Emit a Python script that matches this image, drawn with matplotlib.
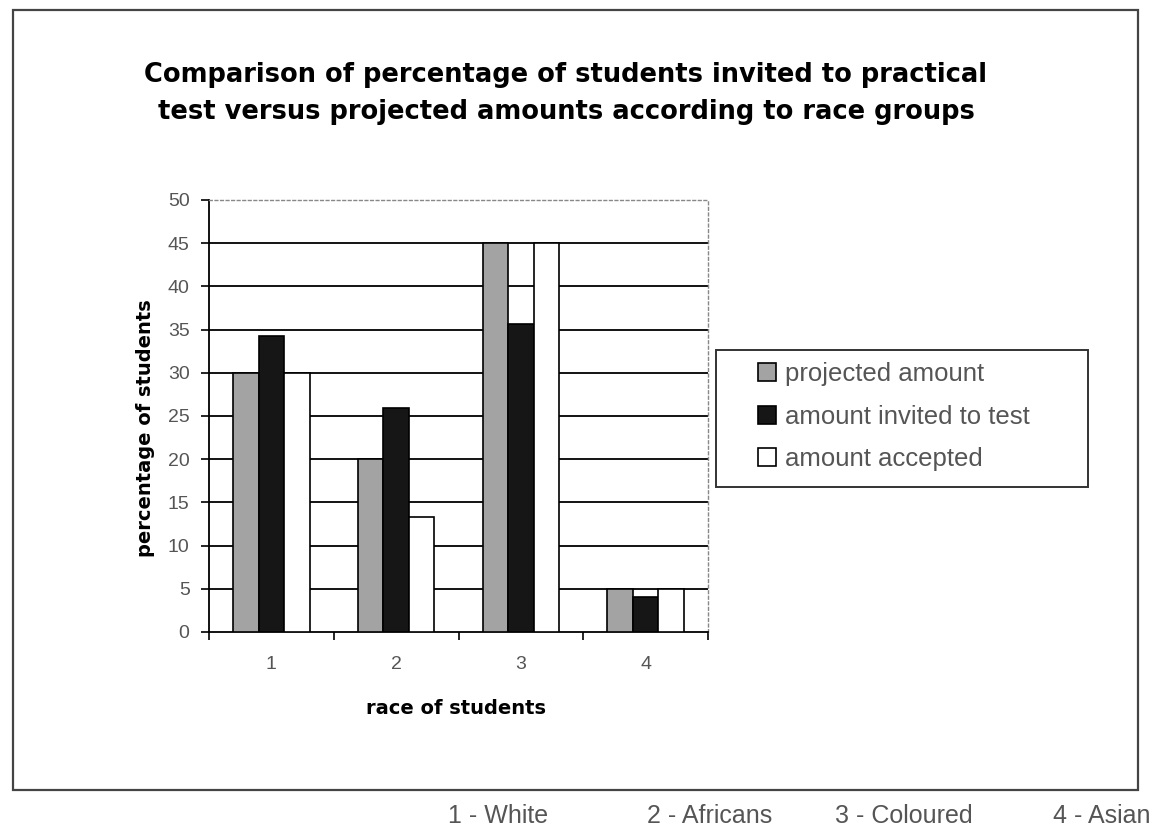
import matplotlib.pyplot as plt
import numpy as np
from matplotlib.patches import Rectangle

plt.rcParams['font.family'] = ['Liberation Sans', 'DejaVu Sans']

# data
grupos = ['1', '2', '3', '4']
projetado = [30, 20, 45, 5]
convidado = [34.3, 25.9, 35.7, 4.1]
aceito = [30, 13.3, 45, 5]
series = ['projected amount', 'amount invited to test', 'amount accepted']
legenda_racas = ['1 - White', '2 - Africans', '3 - Coloured', '4 - Asian']

fig = plt.figure(figsize=(11.55, 8.27), dpi=100)
ax = fig.add_axes([0.181, 0.2358, 0.432, 0.5224])

x = np.arange(len(grupos))
larg = 0.204
cores = ['#a3a3a3', '#161616', 'white']
for i, (vals, cor, nome) in enumerate(zip([projetado, convidado, aceito], cores, series)):
    ax.bar(x + (i - 1) * larg, vals, larg, color=cor, edgecolor='black',
           linewidth=1.2, label=nome, zorder=3)

# grid lines in black behind the bars
for yv in range(5, 50, 5):
    ax.axhline(yv, color='black', linewidth=1.3, zorder=1)

ax.set_xlim(-0.5, 3.5)
ax.set_ylim(0, 50)
ax.set_yticks(range(0, 55, 5))
ax.set_xticks(x)
ax.set_xticklabels(grupos)
ax.set_xticks(np.arange(-0.5, 4, 1), minor=True)
ax.tick_params(axis='x', which='major', length=0, pad=17, labelsize=14, labelcolor='#555555')
ax.tick_params(axis='x', which='minor', length=6, width=1.2, direction='out')
ax.tick_params(axis='y', length=6, width=1.2, direction='out', labelsize=14,
               labelcolor='#555555', pad=8)

for lado in ['top', 'right']:
    ax.spines[lado].set_linestyle((0, (2, 2)))
    ax.spines[lado].set_color('#888888')
    ax.spines[lado].set_linewidth(1)
ax.spines['left'].set_linewidth(1.3)
ax.spines['bottom'].set_linewidth(1.3)

ax.set_xlabel('race of students', fontsize=14, fontweight='bold', family='DejaVu Sans')
ax.xaxis.set_label_coords(0.495, -0.178)
ax.xaxis.label.set_va('center')
ax.set_ylabel('percentage of students', fontsize=14, fontweight='bold', family='DejaVu Sans')
ax.yaxis.set_label_coords(-0.128, 0.472)
ax.yaxis.label.set_va('center')

fig.text(0.49, 0.887,
         'Comparison of percentage of students invited to practical\n'
         'test versus projected amounts according to race groups',
         ha='center', va='center', fontsize=18.5, fontweight='bold',
         family='DejaVu Sans', linespacing=1.55)

# legend with its own frame
fig.patches.append(Rectangle((716 / 1155, 1 - 487 / 827), 372 / 1155, 137 / 827,
                             transform=fig.transFigure, fill=False,
                             edgecolor='#333333', linewidth=1.4))
fig.legend(loc='center left', bbox_to_anchor=(0.656, 0.4958), fontsize=18.5,
           frameon=False, handlelength=0.7, handleheight=0.7, handletextpad=0.35,
           labelspacing=0.72, borderpad=0, borderaxespad=0, labelcolor='#555555')

# outer frame of the chart
fig.patches.append(Rectangle((0.0113, 0.0447), 0.974, 0.943, transform=fig.transFigure,
                             fill=False, edgecolor='#444444', linewidth=1.6))

xs = [448, 647, 835, 1053]
for xp, txt in zip(xs, legenda_racas):
    fig.text(xp / 1155, 0.0133, txt, fontsize=18, color='#555555', ha='left', va='center')

fig.savefig('out.png', dpi=100)
